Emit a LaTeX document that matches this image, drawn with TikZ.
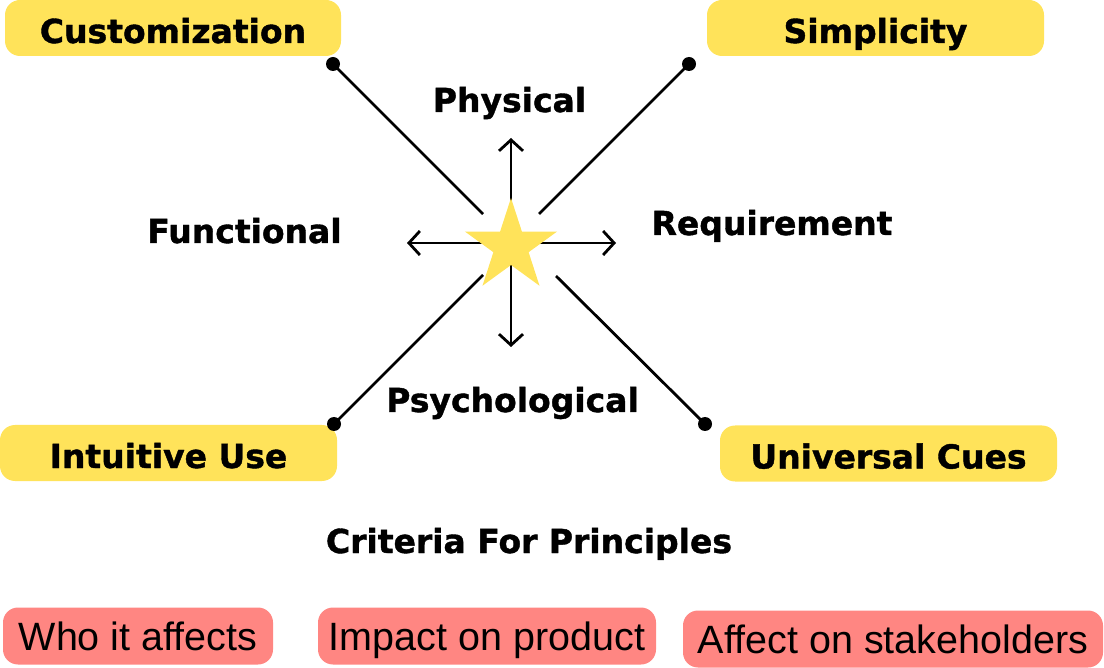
\documentclass[tikz,border=0pt]{standalone}
\usepackage{fontspec}
\setmainfont{DejaVu Sans}[BoldFeatures={FakeBold=1.2}]
\newfontfamily\plainsans{Liberation Sans}
\usetikzlibrary{arrows.meta,shapes.geometric}
\definecolor{tagyellow}{RGB}{255,227,90}
\definecolor{tagred}{RGB}{255,134,130}

\begin{document}
\begin{tikzpicture}[x=1pt,y=-1pt,
  every node/.style={font=\fontsize{33}{40}\selectfont\bfseries},
  ytag/.style={fill=tagyellow,rounded corners=15pt,minimum height=56pt,inner sep=0pt,
    text height=30pt,text depth=0pt},
  rtag/.style={fill=tagred,rounded corners=15pt,minimum height=57pt,inner sep=0pt,
    text height=28pt,text depth=0pt,font=\plainsans\fontsize{39.5}{44}\selectfont},
  spoke/.style={line width=2.8pt},
  dir/.style={line width=2.8pt,-{Straight Barb[length=11pt,width=24pt]}},
  pin/.style={circle,fill=black,minimum size=14pt,inner sep=0pt}]
\useasboundingbox (0,0) rectangle (1104,668);

\node[ytag,minimum width=336pt] (custom) at (173,28) {Customization};
\node[ytag,minimum width=337pt] (simple) at (875.5,28) {Simplicity};
\node[ytag,minimum width=337pt] (intuit) at (168.5,453) {Intuitive Use};
\node[ytag,minimum width=337pt] (cues) at (888.5,453.5) {Universal Cues};

\node[pin] (pCustom) at (333,64) {};
\node[pin] (pSimple) at (689,64) {};
\node[pin] (pIntuit) at (334,424) {};
\node[pin] (pCues) at (705,424) {};
\coordinate (eCustom) at (483,214);
\coordinate (eSimple) at (539,214);
\coordinate (eIntuit) at (483,275);
\coordinate (eCues) at (556,276);
\foreach \n in {Custom,Simple,Intuit,Cues}
  \draw[spoke] (p\n.center) -- (e\n);

\coordinate (c) at (511,243);
\coordinate (up) at (511,138);
\coordinate (down) at (511,347);
\coordinate (left) at (407,243);
\coordinate (right) at (616,243);
\foreach \d in {up,down,left,right}
  \draw[dir] (c) -- (\d);
\node[star,star points=5,star point ratio=2.618,fill=tagyellow,
  minimum size=97pt,inner sep=0pt] (star) at (511,246.5) {};

\node[anchor=base] (phys) at (509.5,112) {Physical};
\node[anchor=base] (func) at (244.5,243) {Functional};
\node[anchor=base] (req) at (772,235) {Requirement};
\node[anchor=base] (psy) at (512.5,412) {Psychological};
\node[anchor=base] (crit) at (529,553) {Criteria For Principles};

\node[rtag,minimum width=270pt] (who) at (138,636) {Who it affects};
\node[rtag,minimum width=338pt] (impact) at (487,636) {Impact on product};
\node[rtag,minimum width=420pt] (stake) at (893,639) {Affect on stakeholders};
\end{tikzpicture}
\end{document}
